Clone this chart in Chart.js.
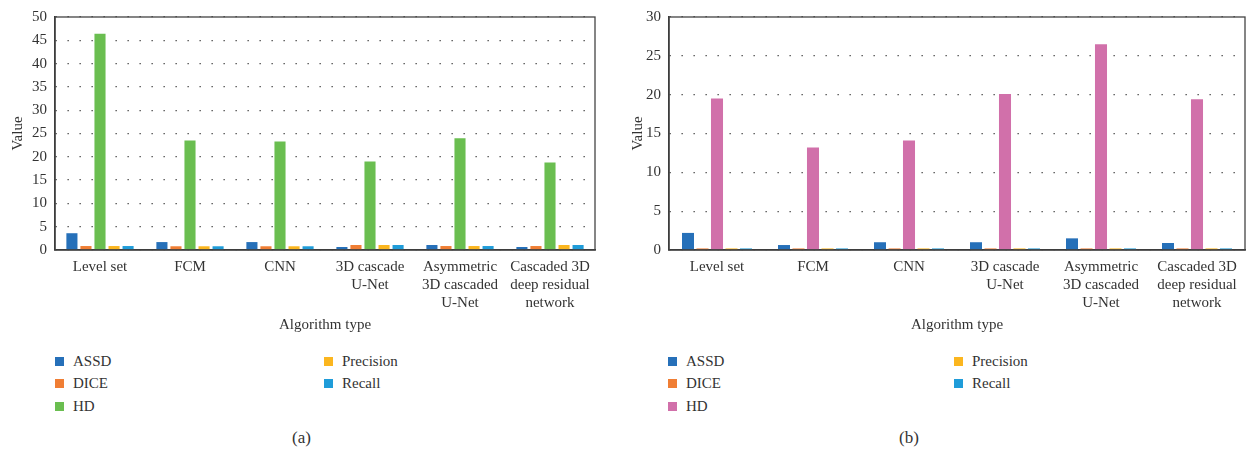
<!DOCTYPE html>
<html>
<head>
<meta charset="utf-8">
<script src="https://cdn.jsdelivr.net/npm/chart.js@4/dist/chart.umd.min.js"></script>
<style>
  body { margin: 0; background: #fff; font-family: "Liberation Serif", serif; color: #333; }
  .panel { position: absolute; top: 0; }
  .legend { position: absolute; font-size: 15px; }
  .item { position: absolute; white-space: nowrap; line-height: 18px; }
  .item span.sw { display: inline-block; width: 9px; height: 9px; margin-right: 9px; vertical-align: 0px; }
  .cap { position: absolute; top: 428px; font-size: 17px; }
</style>
</head>
<body>
<div class="panel" style="left:0"><canvas id="chartA" width="620" height="340"></canvas></div>
<div class="panel" style="left:620px"><canvas id="chartB" width="630" height="340"></canvas></div>
<div id="legendA" class="legend" style="left:0;top:352px;width:620px;"></div>
<div id="legendB" class="legend" style="left:620px;top:352px;width:630px;"></div>
<div class="cap" style="left:292px">(a)</div>
<div class="cap" style="left:899px">(b)</div>
<script>
// categories and series
const categories = [
  "Level set",
  "FCM",
  "CNN",
  ["3D cascade", "U-Net"],
  ["Asymmetric", "3D cascaded", "U-Net"],
  ["Cascaded 3D", "deep residual", "network"],
];
const seriesNames = ["ASSD", "DICE", "HD", "Precision", "Recall"];

// panel (a)
const assdA = [3.6, 1.7, 1.7, 0.64, 1.07, 0.64];
const diceA = [0.85, 0.8, 0.8, 1.07, 0.85, 0.85];
const hdA = [46.4, 23.5, 23.3, 19.0, 24.0, 18.8];
const precisionA = [0.85, 0.8, 0.8, 1.07, 0.85, 1.07];
const recallA = [0.85, 0.8, 0.8, 1.07, 0.85, 1.07];

// panel (b)
const assdB = [2.2, 0.64, 1.0, 1.0, 1.5, 0.9];
const diceB = [0.2, 0.2, 0.2, 0.2, 0.2, 0.2];
const hdB = [19.5, 13.2, 14.1, 20.1, 26.5, 19.4];
const precisionB = [0.2, 0.2, 0.2, 0.2, 0.2, 0.2];
const recallB = [0.2, 0.2, 0.2, 0.2, 0.2, 0.2];

const colorsA = ["#2670b9", "#f07e34", "#6abe50", "#fbb61f", "#1f9cd9"];
const colorsB = ["#2670b9", "#f07e34", "#d170aa", "#fbb61f", "#1f9cd9"];

const textColor = "#333";
const fontFamily = "'Liberation Serif', serif";

// box around the plot area (top and right edges)
const frame = {
  id: "frame",
  afterDraw(chart) {
    const { ctx, chartArea: a } = chart;
    ctx.save();
    ctx.strokeStyle = "#444";
    ctx.lineWidth = 1.3;
    ctx.strokeRect(a.left, a.top, a.right - a.left, a.bottom - a.top);
    ctx.restore();
  },
};

function createChart(canvas, seriesData, colors, yMax, yWidth, padRight, barPct, catPct) {
  const ctx = canvas.getContext("2d");
  return new Chart(ctx, {
    type: "bar",
    data: {
      labels: categories,
      datasets: seriesNames.map((name, i) => ({
        label: name,
        data: seriesData[i],
        backgroundColor: colors[i],
        barPercentage: barPct,
        categoryPercentage: catPct,
      })),
    },
    options: {
      responsive: false,
      animation: false,
      layout: { padding: { top: 16, right: padRight, left: 0, bottom: 0 } },
      plugins: { legend: { display: false }, tooltip: { enabled: false } },
      scales: {
        x: {
          grid: { display: false },
          border: { display: true, color: "#333", width: 1.5 },
          ticks: { color: textColor, font: { family: fontFamily, size: 15, lineHeight: 1.2 }, maxRotation: 0, padding: 0 },
          title: {
            display: true,
            text: "Algorithm type",
            color: textColor,
            font: { family: fontFamily, size: 15 },
            padding: { top: 2, bottom: 6 },
          },
          afterFit: (scale) => { scale.height = 90; },
        },
        y: {
          min: 0,
          max: yMax,
          ticks: { stepSize: 5, color: textColor, font: { family: fontFamily, size: 15 }, padding: 8 },
          grid: {
            color: "#444",
            lineWidth: 1.3,
            drawTicks: false,
          },
          border: { display: true, color: "#333", width: 1.5, dash: [1.3, 10.7] },
          title: {
            display: true,
            text: "Value",
            color: textColor,
            font: { family: fontFamily, size: 15 },
            padding: { top: 9, bottom: 0 },
          },
          afterFit: (scale) => { scale.width = yWidth; },
        },
      },
    },
    plugins: [frame],
  });
}

function buildLegend(el, colors, col2Left, col1Left) {
  const rows = [[0, col1Left, 0], [1, col1Left, 1], [2, col1Left, 2], [3, col2Left, 0], [4, col2Left, 1]];
  rows.forEach(([i, left, row]) => {
    const d = document.createElement("div");
    d.className = "item";
    d.style.left = left + "px";
    d.style.top = row * 22.3 + "px";
    d.innerHTML = '<span class="sw" style="background:' + colors[i] + '"></span>' + seriesNames[i];
    el.appendChild(d);
  });
}

createChart(document.getElementById("chartA"),
  [assdA, diceA, hdA, precisionA, recallA], colorsA, 50, 55, 25, 0.79, 0.78);
createChart(document.getElementById("chartB"),
  [assdB, diceB, hdB, precisionB, recallB], colorsB, 30, 49, 5, 0.83, 0.755);

buildLegend(document.getElementById("legendA"), colorsA, 324, 55);
buildLegend(document.getElementById("legendB"), colorsB, 334, 48);
</script>
</body>
</html>
